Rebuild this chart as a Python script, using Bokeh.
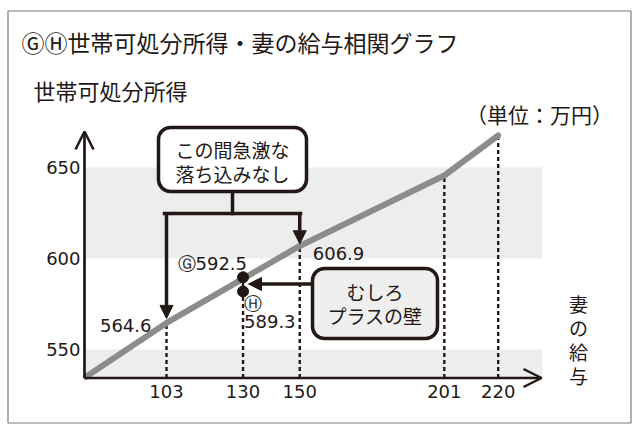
from bokeh.plotting import figure
from bokeh.models import Range1d, Arrow, NormalHead, OpenHead, BoxAnnotation
from bokeh.core.properties import value
from bokeh.embed import file_html
from bokeh.resources import INLINE

# ---------------- data ----------------
title = "ⒼⒽ世帯可処分所得・妻の給与相関グラフ"
y_label = "世帯可処分所得"
x_label = "妻\nの\n給\n与"
unit_label = "（単位：万円）"

wife_salary = [74.6, 103, 150, 201, 220]                 # 妻の給与 (万円)
household_income = [535.0, 564.6, 606.9, 645.6, 667.6]  # 世帯可処分所得 (万円)

x_ticks = [103, 130, 150, 201, 220]
x_tick_labels = ["103", "130", "150", "201", "220"]
guide_tops = [564.6, 589.3, 606.9, 645.6, 667.6]

y_ticks = [550, 600, 650]
y_tick_labels = ["550", "600", "650"]

band_bottoms = [534.3, 600]
band_tops = [550, 650]

point_x = 130
point_g = 592.5
point_h = 589.3

box1_text = "この間急激な\n落ち込みなし"
box2_text = "むしろ\nプラスの壁"

# ---------------- layout helpers (picture pixels -> data) ----------------
PX0, X0, SX = 166.0, 103.0, 2.835
PY0, Y0, SY = 349.0, 550.0, 1.82
W, H = 632, 424


def dx(px):
    return X0 + (px - PX0) / SX


def dy(py):
    return Y0 - (py - PY0) / SY


X_MIN = dx(84)
Y_MIN = dy(377.5)

DARK = "#231815"
JP = value("Noto Sans CJK JP")
NUM = value("DejaVu Sans")

p = figure(width=W, height=H,
           x_range=Range1d(dx(0), dx(W)), y_range=Range1d(dy(H), dy(0)),
           output_backend="svg", toolbar_location=None,
           x_axis_location=None, y_axis_location=None,
           min_border=0, outline_line_color=None,
           background_fill_color="white", border_fill_color="white")
for g in p.grid:
    g.visible = False

# outer frame
p.quad(left=[dx(7.5)], right=[dx(630.5)], top=[dy(10.5)], bottom=[dy(422.5)],
       fill_color=None, line_color="#7d7d7d", line_width=1.2)

# bands
p.quad(left=X_MIN, right=dx(542), bottom=band_bottoms, top=band_tops,
       fill_color="#ededed", line_color=None)

# dashed guides
p.segment(x0=x_ticks, y0=Y_MIN, x1=x_ticks, y1=guide_tops,
          line_color=DARK, line_width=2.4, line_dash="4 3")

# main line
p.line(wife_salary, household_income, line_color="#8c8c8c", line_width=6,
       line_cap="round", line_join="round")

# points (nudged apart for legibility)
p.scatter([point_x, point_x], [point_g - 2.8, point_h - 7.4], size=11,
          fill_color=DARK, line_color=DARK)

# axes with open arrow heads
p.add_layout(Arrow(end=OpenHead(size=18, line_color=DARK, line_width=2.5),
                   x_start=X_MIN, y_start=Y_MIN, x_end=X_MIN, y_end=dy(131),
                   line_color=DARK, line_width=2.7))
p.add_layout(Arrow(end=OpenHead(size=18, line_color=DARK, line_width=2.5),
                   x_start=X_MIN, y_start=Y_MIN, x_end=dx(541), y_end=Y_MIN,
                   line_color=DARK, line_width=2.7))

# tick labels
p.text(x=x_ticks, y=Y_MIN, text=x_tick_labels, text_font=NUM,
       text_font_size="18px", text_color=DARK, text_align="center",
       text_baseline="middle", y_offset=13)
p.text(x=X_MIN, y=y_ticks, text=y_tick_labels, text_font=NUM,
       text_font_size="18px", text_color=DARK, text_align="right",
       text_baseline="middle", x_offset=-4)

# value labels
p.text(x=[103], y=[564.6], text=["564.6"], text_font=NUM, text_font_size="18px",
       text_color=DARK, text_align="right", text_baseline="middle",
       x_offset=-15, y_offset=3)
p.text(x=[150], y=[606.9], text=["606.9"], text_font=NUM, text_font_size="18px",
       text_color=DARK, text_align="left", text_baseline="middle",
       x_offset=13, y_offset=8)
p.text(x=[point_x], y=[point_g], text=["Ⓖ592.5"], text_font=NUM,
       text_font_size="18px", text_color=DARK, text_align="right",
       text_baseline="middle", x_offset=4, y_offset=-9)
p.text(x=[point_x], y=[point_h], text=["Ⓗ\n589.3"], text_font=NUM,
       text_font_size="18px", text_color=DARK, text_align="left",
       text_baseline="top", text_line_height=0.86, x_offset=1, y_offset=15)

# callout box 1 with bracket arrows
p.add_layout(BoxAnnotation(left=dx(158), right=dx(306), top=dy(127), bottom=dy(191),
                           fill_color="white", fill_alpha=1, line_color=DARK,
                           line_alpha=1, line_width=3.5, border_radius=12))
p.multi_line(xs=[[dx(232), dx(232)], [dx(164), dx(300)]],
             ys=[[dy(191), dy(213)], [dy(213), dy(213)]],
             line_color=DARK, line_width=3.5, line_cap="square")
for xa, tip in [(103, 564.6 + 2.5), (150, 606.9 + 1.2)]:
    p.add_layout(Arrow(end=NormalHead(size=13, fill_color=DARK, line_color=DARK),
                       x_start=xa, y_start=dy(213), x_end=xa, y_end=tip,
                       line_color=DARK, line_width=3.5))
p.text(x=[dx(232)], y=[dy(161)], text=[box1_text], text_font=JP,
       text_font_size="19px", text_color=DARK, text_align="center",
       text_baseline="middle", text_line_height=0.9, level="overlay")

# callout box 2 with arrow
p.add_layout(BoxAnnotation(left=dx(312), right=dx(437), top=dy(268), bottom=dy(338),
                           fill_color="#efefef", fill_alpha=1, line_color=DARK,
                           line_alpha=1, line_width=3.5, border_radius=12))
p.add_layout(Arrow(end=NormalHead(size=13, fill_color=DARK, line_color=DARK),
                   x_start=dx(312), y_start=dy(283.5), x_end=dx(248), y_end=dy(283.5),
                   line_color=DARK, line_width=3.5))
p.text(x=[dx(374.5)], y=[dy(303)], text=[box2_text], text_font=JP,
       text_font_size="19px", text_color=DARK, text_align="center",
       text_baseline="middle", text_line_height=0.9, level="overlay")

# titles / axis labels
p.text(x=[dx(21)], y=[dy(41)], text=[title], text_font=JP, text_font_size="23px",
       text_color=DARK, text_align="left", text_baseline="middle")
p.text(x=[dx(33)], y=[dy(89)], text=[y_label], text_font=JP, text_font_size="22px",
       text_color=DARK, text_align="left", text_baseline="middle")
p.text(x=[dx(539)], y=[dy(113)], text=[unit_label], text_font=JP,
       text_font_size="21px", text_color=DARK, text_align="center",
       text_baseline="middle")
p.text(x=[dx(578)], y=[dy(289)], text=[x_label], text_font=JP,
       text_font_size="19px", text_color=DARK, text_align="center",
       text_baseline="top", text_line_height=0.9)

open("out.html", "w").write(file_html(p, INLINE))
